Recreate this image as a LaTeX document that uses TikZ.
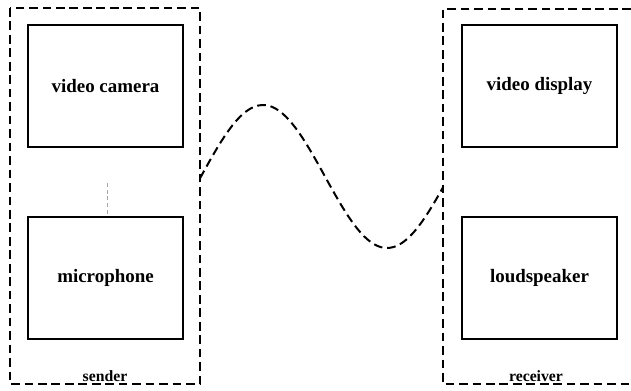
\documentclass[tikz,border=0pt]{standalone}
\usepackage{fontspec}
\setmainfont{Liberation Serif}
\begin{document}
\begin{tikzpicture}[x=0.75pt,y=-0.75pt,
  unit/.style={draw,line width=1.6pt,minimum width=116.25pt,minimum height=91.5pt,inner sep=0pt,font=\bfseries\fontsize{14.2}{16}\selectfont},
  group/.style={line width=1.5pt,dash pattern=on 6.5pt off 3.6pt},
  lbl/.style={font=\bfseries\fontsize{11.8}{13}\selectfont,inner sep=0pt}]
\useasboundingbox (0,0) rectangle (631,391);
% sender group
\draw[group] (10,8) rectangle (200,384);
\coordinate (sendR) at (200,183);
\node[lbl] (sender) at (105,376) {sender};
\node[unit] (cam) at (105.5,86) {video camera};
\node[unit] (mic) at (105.5,278) {microphone};
\coordinate (tick) at (107,183);
\draw[gray!70,line width=0.4pt,dash pattern=on 3pt off 2pt] (tick) -- (mic.north -| tick);
% receiver group
\draw[group] (631,9) -- (443,9) -- (443,384) -- (631,384);
\coordinate (recL) at (443,187);
\node[lbl] (receiver) at (536,376) {receiver};
\node[unit] (disp) at (539.5,86) {video display};
\node[unit] (spk) at (539.5,278) {loudspeaker};
% wave
\draw[group,line join=round] plot[smooth,domain=200:443,samples=60] (\x,{176.5-71.5*sin((\x-263)/248*360+90)});
\end{tikzpicture}
\end{document}
